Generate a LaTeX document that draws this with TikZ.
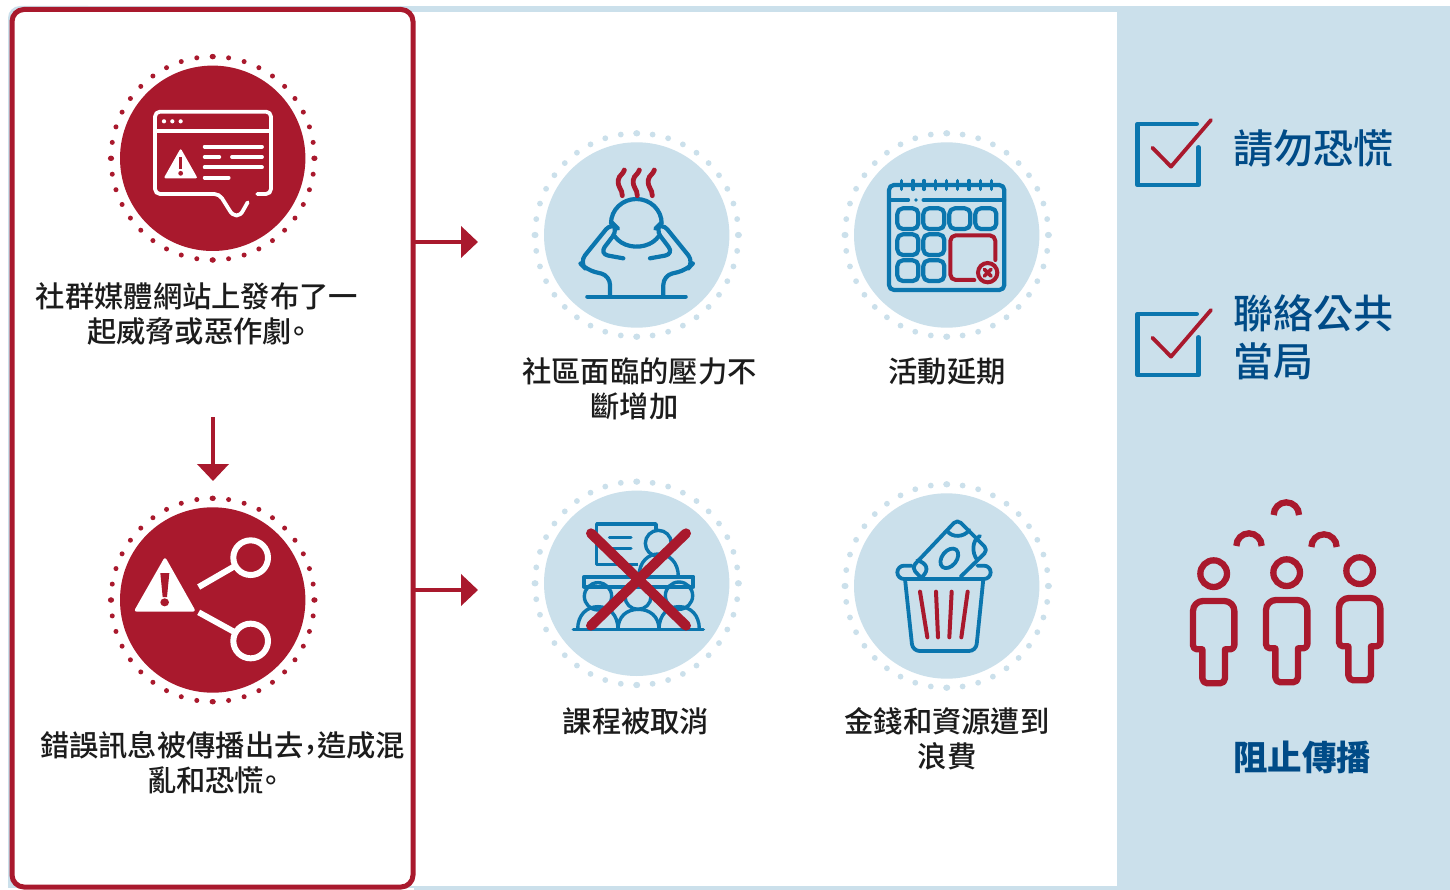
\documentclass[tikz,border=0pt]{standalone}
\usepackage{fontspec}
\setmainfont{Noto Sans CJK TC}
\newfontfamily\cjkmed{Noto Sans CJK TC Medium}
\usetikzlibrary{arrows.meta,calc}
\definecolor{cred}{HTML}{A9192D}
\definecolor{lblue}{HTML}{CBE0EB}
\definecolor{iblue}{HTML}{0B76AE}
\definecolor{dblue}{HTML}{004B87}
\definecolor{tblack}{HTML}{1C1C1C}
\tikzset{
  zoomed/.style 2 args={shift={(#1,#2)},x=0.33333pt,y=-0.33333pt},
  disc/.style={circle,inner sep=0pt,minimum size=185.4pt},
  label29/.style={font=\cjkmed\fontsize{29.3}{35.5}\selectfont,text=tblack,align=center,inner sep=0pt},
  flow/.style={cred,line width=4.6pt,-{Triangle[length=17pt,width=31pt]}},
  wl/.style={white,line width=3.8pt,line cap=round,line join=round},
  bl/.style={iblue,line width=4.2pt,line cap=round,line join=round},
  rl/.style={cred,line width=4pt,line cap=round,line join=round},
  checkbox/.style={iblue,line width=4.6pt,line join=round,line cap=round},
  checkmark/.style={cred,line width=3.8pt,line join=round,line cap=round},
  action/.style={font=\cjkmed\fontsize{40}{48}\selectfont,text=dblue,align=left,inner sep=0pt,anchor=west},
}
\newcommand{\dotring}[4]{%
  \foreach \a in {0,9,...,351}{%
    \fill[#3] ($(#1,#2)+(\a:101.7)$) circle (#4);}
  \foreach \a in {0,90,180,270}{%
    \fill[#3] ($(#1,#2)+(\a:101.7)$) ellipse ({#4+0.6pt} and {#4+0.2pt});}
}
\newcommand{\personfig}[2]{%
  \draw[cred,line width=6.3pt] (#1,#2-82) circle (40);
  \draw[cred,line width=6.3pt,line join=round]
    (#1-34,#2+145) [rounded corners=4pt] -- (#1-62,#2+145) [rounded corners=10pt] -- (#1-62,#2)
    -- (#1+62,#2) [rounded corners=4pt] -- (#1+62,#2+145) [sharp corners] -- (#1+34,#2+145)
    [rounded corners=5pt] -- (#1+34,#2+247) -- (#1-34,#2+247) [sharp corners] -- cycle;
}
\newcommand{\checkfig}[1]{%
  \begin{scope}[zoomed={1125}{#1}]
  \draw[checkbox] (215,72) -- (38,72) -- (38,255) -- (220,255) -- (220,142);
  \draw[checkmark] (82,143) -- (138,200) -- (258,60);
  \end{scope}
}
\newcommand{\halfstop}{\hspace{-7.5pt}。\hspace{-7.5pt}}
\begin{document}
\begin{tikzpicture}[x=1pt,y=-1pt]
\useasboundingbox (0,0) rectangle (1450,890);
\fill[white] (0,0) rectangle (1450,890);
% background
\fill[lblue,rounded corners=12pt] (8,6) -- (100,6) -- (100,900) -- (8,900) -- cycle;
\fill[lblue] (60,6) rectangle (1450,890);
\fill[white] (14,12) rectangle (1117,886);
\fill[white] (0,888) rectangle (414,890);
% left panel
\node[draw=cred,line width=5pt,fill=white,rounded corners=12pt,minimum width=401pt,minimum height=877.5pt,anchor=north west,inner sep=0pt,outer sep=0pt] (panel) at (12,9.5) {};
% discs
\node[disc,fill=cred] (warnA) at (212.7,158.3) {};
\node[disc,fill=cred] (warnB) at (212.7,600) {};
\node[disc,fill=lblue] (stress) at (636.7,235) {};
\node[disc,fill=lblue] (delay) at (946.7,235) {};
\node[disc,fill=lblue] (cancel) at (636.7,583.3) {};
\node[disc,fill=lblue] (waste) at (946.7,586) {};
\dotring{212.7}{158.3}{cred}{2.5pt}
\dotring{212.7}{600}{cred}{2.5pt}
\dotring{636.7}{235}{lblue}{2.9pt}
\dotring{946.7}{235}{lblue}{2.9pt}
\dotring{636.7}{583.3}{lblue}{2.9pt}
\dotring{946.7}{586}{lblue}{2.9pt}
% icon 1
\begin{scope}[zoomed={100}{40}]
\draw[wl,rounded corners=5pt] (472,462) -- (513,462) -- (513,215) -- (165,215) -- (165,462) -- (358,462) [sharp corners] -- (388,510) .. controls (400,532) and (420,532) .. (430,510) -- (443,487);
\draw[wl] (165,272) -- (513,272);
\foreach \p in {192,217,242} \fill[white] (\p,244) circle (2.1pt);
\fill[white,rounded corners=2pt] (242,325) -- (191,415) -- (293,415) -- cycle;
\draw[cred,line width=2.6pt] (242,352) -- (242,388);
\fill[cred] (242,400) circle (2.4pt);
\draw[wl] (314,320) -- (486,320) (314,351) -- (358,351) (396,351) -- (486,351) (314,382) -- (486,382) (314,413) -- (386,413);
\end{scope}
% icon 2
\begin{scope}[zoomed={100}{485}]
\fill[white,rounded corners=3pt] (195,215) -- (101,380) -- (288,380) -- cycle;
\fill[cred] (181,264) -- (208,264) -- (201,336) -- (188,336) -- cycle;
\fill[cred] (194,352) ellipse (13 and 12);
\draw[white,line width=6pt] (296,306) -- (405,243) (296,382) -- (405,442);
\draw[white,line width=6pt] (452,218) circle (52) (452,468) circle (52);
\end{scope}
% stress icon
\begin{scope}[zoomed={530}{125}]
\draw[bl] (243,295) arc (180:360:76 and 73);
\draw[bl] (255,335) arc (150:30:75 and 60);
\draw[bl,rounded corners=9pt] (280,400) -- (208,387) -- (265,312) -- (245,292) -- (148,412) -- (170,435) -- (240,452) -- (240,515);
\draw[bl,rounded corners=9pt] (360,400) -- (432,387) -- (375,312) -- (395,292) -- (492,412) -- (470,435) -- (400,452) -- (400,515);
\draw[bl] (172,515) -- (467,515);
\foreach \d in {0,45,90}
  \draw[cred,line width=4.8pt,line cap=round] (277+\d,212) .. controls (277+\d,192) and (262+\d,188) .. (265+\d,165) .. controls (267+\d,150) and (280+\d,148) .. (283+\d,135);
\end{scope}
% calendar icon
\begin{scope}[zoomed={840}{125}]
\draw[bl,rounded corners=5pt] (147,180) rectangle (493,495);
\foreach \p in {185,219,252,286,320,353,387,421,455} \draw[bl,line width=3.6pt] (\p,167) -- (\p,193);
\draw[bl,line width=3.6pt] (147,225) -- (205,225) (250,225) -- (493,225);
\fill[iblue] (228,225) circle (1.9pt);
\foreach \p/\q in {172/250,250/250,328/250,406/250,172/328,250/328,172/406,250/406}
  \draw[bl,rounded corners=5.5pt] (\p,\q) rectangle (\p+63,\q+62);
\draw[rl,rounded corners=5.5pt] (403,465) -- (331,465) -- (331,331) -- (466,331) -- (466,405);
\draw[cred,line width=4pt] (443,443) circle (29);
\draw[cred,line width=3.6pt,line cap=round] (433,433) -- (453,453) (453,433) -- (433,453);
\end{scope}
% classroom icon
\begin{scope}[zoomed={530}{475}]
\draw[iblue,line width=3.4pt,line join=round] (325,268) -- (200,268) -- (200,147) -- (378,147) -- (378,168);
\draw[iblue,line width=3pt,line cap=round] (238,187) -- (303,187) (238,220) -- (303,220);
\draw[iblue,line width=3.4pt] (385,205) circle (39);
\draw[iblue,line width=3.4pt] (327,305) .. controls (327,260) and (355,237) .. (385,237) .. controls (418,237) and (445,262) .. (445,305);
\draw[iblue,line width=3.8pt,line join=round] (162,305) rectangle (490,335);
\draw[iblue,line width=3.4pt] (204,364) circle (41) (447,362) circle (41);
\draw[iblue,line width=3.4pt] (285,365) arc (180:0:39 and 38);
\draw[iblue,line width=3.4pt] (143,463) .. controls (143,420) and (170,395) .. (204,395) .. controls (238,395) and (264,420) .. (264,463);
\draw[iblue,line width=3.4pt] (264,463) .. controls (264,425) and (290,403) .. (325,403) .. controls (360,403) and (387,425) .. (387,463);
\draw[iblue,line width=3.4pt] (387,463) .. controls (387,420) and (413,395) .. (447,395) .. controls (482,395) and (508,420) .. (508,463);
\draw[iblue,line width=3.4pt,line cap=round] (130,463) -- (520,463);
\draw[cred,line width=10pt,line cap=round] (183,175) -- (468,452) (468,175) -- (183,452);
\end{scope}
% bin icon
\begin{scope}[zoomed={840}{475}]
\draw[bl,line width=3.8pt] (215,272) -- (192,272) arc (270:90:20) -- (432,312) arc (90:-90:20) -- (412,272);
\draw[bl,line width=3.8pt,rounded corners=7pt] (195,312) -- (218,528) -- (408,528) -- (430,312);
\draw[rl] (240,350) -- (262,487) (288,350) -- (294,487) (335,350) -- (328,487) (383,350) -- (364,487);
\draw[bl,line width=3.8pt,rounded corners=5pt] (240,305) -- (215,278) -- (352,133) -- (444,225) -- (362,305);
\draw[bl,line width=3.8pt] (322,168) .. controls (335,188) and (372,188) .. (388,165);
\draw[bl,line width=3.8pt] (420,183) .. controls (395,195) and (395,235) .. (412,255);
\draw[bl,line width=3.8pt] (232,256) .. controls (262,265) and (268,285) .. (247,305);
\draw[bl,line width=3.8pt,rotate around={-38:(328,250)}] (328,250) ellipse (22 and 33);
\end{scope}
% arrows
\coordinate (fromA) at (413,242);
\coordinate (toA) at (478,242);
\coordinate (fromB) at (413,590);
\coordinate (toB) at (478,590);
\coordinate (fromC) at (213,417);
\coordinate (toC) at (213,481);
\draw[flow] (fromA) -- (toA);
\draw[flow] (fromB) -- (toB);
\draw[flow] (fromC) -- (toC);
% left labels
\node[label29] (t1) at (197,314) {社群媒體網站上發布了一\\\hspace*{7pt}起威脅或惡作劇\halfstop};
\node[label29,text width=380pt] (t2) at (222.5,763) {錯誤訊息被傳播出去\makebox[13.4pt]{\raisebox{7pt}{,}}造成混\\\hspace*{-12pt}亂和恐慌\halfstop};
% middle labels
\node[label29] (t3) at (639.5,389) {社區面臨的壓力不\\\hspace*{-10pt}斷增加};
\node[label29] (t4) at (947,372) {活動延期};
\node[label29] (t5) at (636,721.5) {課程被取消};
\node[label29] (t6) at (947,739) {金錢和資源遭到\\浪費};
% right column
\checkfig{100}
\checkfig{290}
\node[action] (a1) at (1233.5,149) {請勿恐慌};
\node[action] (a2) at (1233.5,337) {聯絡公共\\當局};
\begin{scope}[zoomed={1170}{490}]
\personfig{131}{333}
\personfig{350}{330}
\personfig{569}{324}
\draw[cred,line width=6.3pt] (199,168) arc (180:360:38) (311,75) arc (180:360:38) (424,171) arc (180:360:38);
\end{scope}
\node[font=\fontsize{34.5}{40}\bfseries,text=dblue,inner sep=0pt] (a3) at (1302,757) {阻止傳播};
\end{tikzpicture}
\end{document}
